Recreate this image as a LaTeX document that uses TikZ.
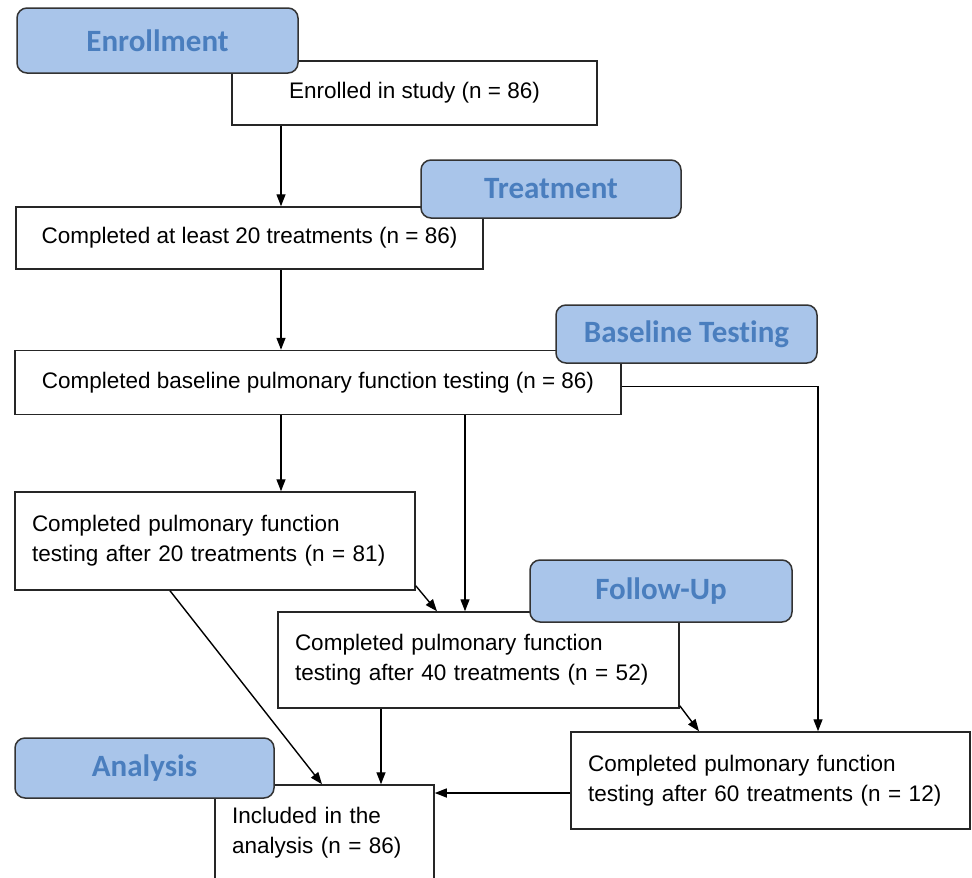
\documentclass[tikz,border=0pt]{standalone}
\usepackage{fontspec}
\setmainfont{Liberation Sans}
\newfontfamily\stagefont[Ligatures=NoCommon]{Carlito}
\usetikzlibrary{arrows.meta,calc}

\definecolor{stagefill}{HTML}{A9C5EA}
\definecolor{stagetext}{HTML}{4A7EBE}

\tikzset{
  stagebox/.style={draw=black!80, line width=1.5pt, fill=stagefill,
    rounded corners=10pt, text=stagetext, inner sep=0pt,
    font=\stagefont\bfseries\fontsize{31}{31}\selectfont},
  stepbox/.style={draw=black!85, line width=1.5pt, fill=white, inner sep=0pt,
    font=\fontsize{22.5}{30}\selectfont},
  notebox/.style={stepbox, align=left, inner xsep=17pt},
  flow/.style={-{Triangle[length=12pt,width=9pt]}, line width=1.4pt},
}

\begin{document}
\begin{tikzpicture}[x=1pt, y=-1pt]
	\useasboundingbox (0,0) rectangle (972,878);
	% steps
	\node[stepbox, minimum width=365pt, minimum height=64pt] (enrolled) at (414.5,93) {Enrolled in study (n = 86)};
	\node[stepbox, minimum width=467pt, minimum height=62pt] (tr20) at (249.5,238) {Completed at least 20 treatments (n = 86)};
	\node[stepbox, minimum width=606pt, minimum height=64pt] (base) at (318,382.5) {Completed baseline pulmonary function testing (n = 86)};
	\node[notebox, text width=366pt, minimum height=98pt] (pft20) at (215,541) {Completed pulmonary function\\testing after 20 treatments (n = 81)};
	\node[notebox, text width=367pt, minimum height=96pt] (pft40) at (478.5,660) {Completed pulmonary function\\testing after 40 treatments (n = 52)};
	\node[notebox, text width=365pt, minimum height=97pt] (pft60) at (770.5,780.5) {Completed pulmonary function\\testing after 60 treatments (n = 12)};
	\node[notebox, text width=185pt, minimum height=96pt] (incl) at (324.5,833) {Included in the\\analysis (n = 86)};

	% columns and rows the arrows run on
	\coordinate (c1) at (281,0);
	\coordinate (c2) at (465,0);
	\coordinate (c3) at (818,0);
	\coordinate (c4) at (437,0);
	\coordinate (c5) at (170,0);
	\coordinate (c6) at (322,0);
	\coordinate (c7) at (381,0);
	\coordinate (c8) at (699,0);
	\coordinate (r1) at (0,793);

	\draw[flow] (enrolled.south -| c1) -- (tr20.north -| c1);
	\draw[flow] (tr20.south -| c1) -- (base.north -| c1);
	\draw[flow] (base.south -| c1) -- (pft20.north -| c1);
	\draw[flow] (base.south -| c2) -- (pft40.north -| c2);
	\draw[flow] ([yshift=-4pt]base.east) -| (pft60.north -| c3);
	\draw[flow] ([yshift=5pt]pft20.south east) -- (pft40.north -| c4);
	\draw[flow] (pft20.south -| c5) -- (incl.north -| c6);
	\draw[flow] (pft40.south -| c7) -- (incl.north -| c7);
	\draw[flow] ([yshift=3pt]pft40.south east) -- (pft60.north -| c8);
	\draw[flow] (pft60.west |- r1) -- (incl.east |- r1);

	% stage labels
	\node[stagebox, minimum width=281pt, minimum height=65pt] (enrolL) at (157.5,40.5) {Enrollment};
	\node[stagebox, minimum width=260pt, minimum height=58pt] (treatL) at (551,189) {Treatment};
	\node[stagebox, minimum width=261pt, minimum height=58pt] (baseL) at (686.5,334) {Baseline Testing};
	\node[stagebox, minimum width=262pt, minimum height=62pt] (followL) at (661,591) {Follow-Up};
	\node[stagebox, minimum width=259pt, minimum height=60pt] (analL) at (144.5,768) {Analysis};
\end{tikzpicture}
\end{document}
